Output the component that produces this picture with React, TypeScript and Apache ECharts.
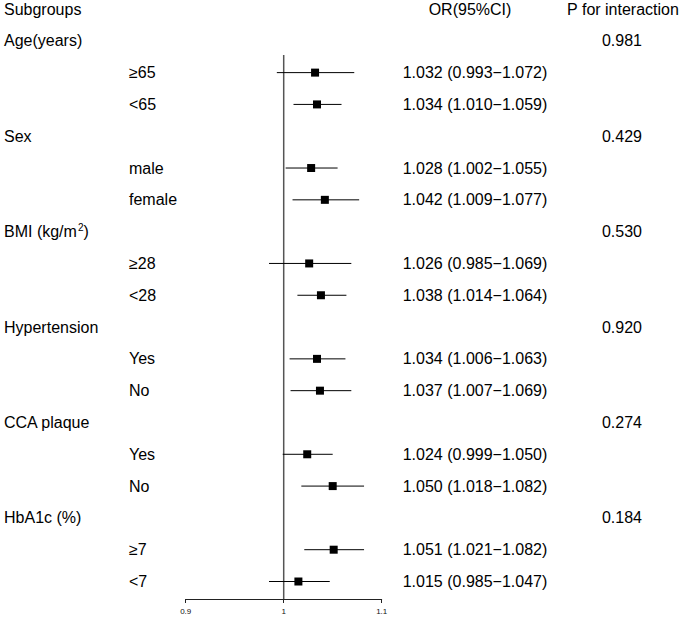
import React, { useEffect, useRef } from "react";
import * as echarts from "echarts";

const headers = ["Subgroups", "OR(95%CI)", "P for interaction"];
const groups = ["Age(years)", "Sex", "BMI (kg/m{sup|2})", "Hypertension", "CCA plaque", "HbA1c (%)"];
const pInteraction = ["0.981", "0.429", "0.530", "0.920", "0.274", "0.184"];
const subgroups = ["≥65", "<65", "male", "female", "≥28", "<28", "Yes", "No", "Yes", "No", "≥7", "<7"];
const orValues = [1.032, 1.034, 1.028, 1.042, 1.026, 1.038, 1.034, 1.037, 1.024, 1.05, 1.051, 1.015];
const lowerCI = [0.993, 1.01, 1.002, 1.009, 0.985, 1.014, 1.006, 1.007, 0.999, 1.018, 1.021, 0.985];
const upperCI = [1.072, 1.059, 1.055, 1.077, 1.069, 1.064, 1.063, 1.069, 1.05, 1.082, 1.082, 1.047];
const xMin = 0.9;
const xMax = 1.1;
const xInterval = 0.1;
const refValue = 1;

const ROW_MAX = 18.55;
const FONT = "'Liberation Sans', Arial, Helvetica, sans-serif";

const fmt = (v: number) => v.toFixed(3);

export default function App() {
  const ref = useRef<HTMLDivElement>(null);
  useEffect(() => {
    if (!ref.current) return;
    const chart = echarts.init(ref.current, null, { renderer: "svg" });

    const groupRow = (g: number) => 1 + 3 * g;
    const subRow = (i: number) => 2 + 3 * Math.floor(i / 2) + (i % 2);

    // text data: [x, row, kind, idx]
    const textData: number[][] = [[refValue, 0, 0, 0]];
    groups.forEach((_, g) => textData.push([refValue, groupRow(g), 1, g]));
    subgroups.forEach((_, i) => textData.push([refValue, subRow(i), 2, i]));

    const forestData = orValues.map((v, i) => [lowerCI[i], upperCI[i], v, subRow(i)]);

    const base = { fontFamily: FONT, fontSize: 16, fill: "#000" };
    const txt = (text: string, x: number, y: number, align: string, extra: any = {}) => ({
      type: "text",
      style: { ...base, text, x, y, align, verticalAlign: "middle", ...extra },
    });

    chart.setOption({
      animation: false,
      grid: { left: 185.7, right: 300.3, top: 9, bottom: 19 },
      xAxis: {
        type: "value",
        position: "bottom",
        min: xMin,
        max: xMax,
        interval: xInterval,
        axisLine: { show: true, onZero: false, lineStyle: { color: "#222", width: 1 } },
        axisTick: { show: true, length: 4, lineStyle: { color: "#222", width: 1 } },
        axisLabel: { fontSize: 8, color: "#111", fontFamily: FONT, margin: 8 },
        splitLine: { show: false },
      },
      yAxis: {
        type: "value",
        min: 0,
        max: ROW_MAX,
        inverse: true,
        show: false,
        splitLine: { show: false },
      },
      series: [
        {
          type: "custom",
          name: "ref",
          data: [[refValue, 1.45, ROW_MAX]],
          encode: { x: 0, y: [1, 2] },
          renderItem: (params: any, api: any) => {
            const p1 = api.coord([api.value(0), api.value(1)]);
            const p2 = api.coord([api.value(0), api.value(2)]);
            return {
              type: "line",
              shape: { x1: p1[0], y1: p1[1], x2: p2[0], y2: p2[1] },
              style: { stroke: "#555", lineWidth: 1.5 },
            };
          },
        },
        {
          type: "custom",
          name: "forest",
          data: forestData,
          encode: { x: [0, 1, 2], y: 3 },
          renderItem: (params: any, api: any) => {
            const row = api.value(3);
            const a = api.coord([api.value(0), row]);
            const b = api.coord([api.value(1), row]);
            const c = api.coord([api.value(2), row]);
            const s = 8;
            return {
              type: "group",
              children: [
                {
                  type: "line",
                  shape: { x1: a[0], y1: a[1], x2: b[0], y2: b[1] },
                  style: { stroke: "#000", lineWidth: 1 },
                },
                {
                  type: "rect",
                  shape: { x: c[0] - s / 2, y: c[1] - s / 2, width: s, height: s },
                  style: { fill: "#000" },
                },
              ],
            };
          },
        },
        {
          type: "custom",
          name: "labels",
          data: textData,
          encode: { x: 0, y: 1 },
          renderItem: (params: any, api: any) => {
            const row = api.value(1);
            const kind = api.value(2);
            const idx = api.value(3);
            const y = api.coord([refValue, row])[1];
            const children: any[] = [];
            if (kind === 0) {
              children.push(txt(headers[0], 4, y, "left"));
              children.push(txt(headers[1], 470, y, "center"));
              children.push(txt(headers[2], 623, y, "center"));
            } else if (kind === 1) {
              children.push(
                txt(groups[idx], 4, y, "left", {
                  rich: { sup: { fontSize: 10, fontFamily: FONT, fill: "#000", verticalAlign: "top", padding: [0, 0, 8, 1] } },
                })
              );
              children.push(txt(pInteraction[idx], 622, y, "center"));
            } else {
              children.push(txt(subgroups[idx], 129, y, "left"));
              children.push(
                txt(`${fmt(orValues[idx])} (${fmt(lowerCI[idx])}\u2212${fmt(upperCI[idx])})`, 475, y, "center")
              );
            }
            return { type: "group", children };
          },
        },
      ],
    });
    return () => chart.dispose();
  }, []);
  return (
    <div
      ref={ref}
      style={{ position: "fixed", left: 0, top: 0, width: 682, height: 618, background: "#fff" }}
    />
  );
}
